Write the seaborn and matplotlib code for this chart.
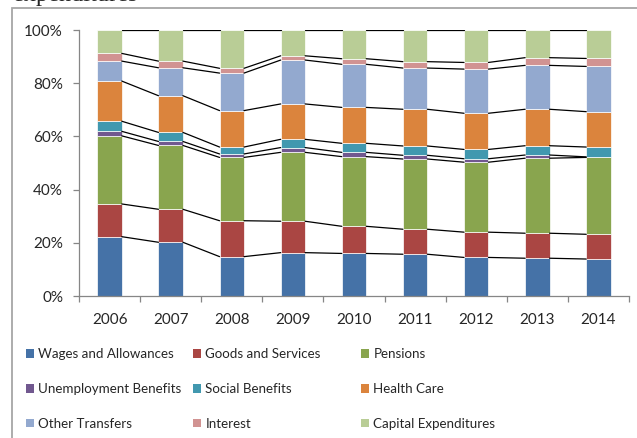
import numpy as np
import pandas as pd
import matplotlib
matplotlib.use("Agg")
import matplotlib.pyplot as plt
import seaborn as sns
from matplotlib.patches import Patch, Rectangle
from matplotlib.ticker import PercentFormatter

sns.set_style("white")
plt.rcParams['font.family'] = ['Lato', 'DejaVu Sans']

# shares of expenditure (%) per year
years = ['2006', '2007', '2008', '2009', '2010', '2011', '2012', '2013', '2014']
wages = [22.3, 20.2, 14.8, 16.3, 16.0, 15.7, 14.5, 14.2, 13.9]
goods = [12.3, 12.4, 13.5, 11.8, 10.2, 9.4, 9.5, 9.4, 9.3]
pensions = [25.6, 24.0, 23.8, 25.9, 26.2, 26.4, 26.3, 28.2, 28.9]
unemployment = [1.7, 1.5, 1.3, 1.8, 1.6, 1.4, 1.3, 1.2, 0.2]
social = [3.8, 3.4, 2.6, 3.1, 3.4, 3.5, 3.5, 3.5, 3.7]
health = [15.1, 13.8, 13.7, 13.3, 13.5, 13.8, 13.6, 13.7, 13.3]
other = [7.5, 10.5, 14.1, 16.5, 16.2, 15.5, 16.6, 16.5, 17.0]
interest = [2.9, 2.5, 1.8, 1.6, 2.1, 2.4, 2.5, 2.9, 3.0]
capital = [8.8, 11.7, 14.4, 9.7, 10.8, 11.9, 12.2, 10.4, 10.7]

series_names = ['Wages and Allowances', 'Goods and Services', 'Pensions',
                'Unemployment Benefits', 'Social Benefits', 'Health Care',
                'Other Transfers', 'Interest', 'Capital Expenditures']
colors = ['#4572A7', '#AA4643', '#89A54E', '#71588F', '#4198AF',
          '#DB843D', '#93A9CF', '#D19392', '#B9CD96']

df = pd.DataFrame({'year': years})
for name, vals in zip(series_names, [wages, goods, pensions, unemployment, social,
                                     health, other, interest, capital]):
    df[name] = vals

fig = plt.figure(figsize=(6.37, 4.38), dpi=100)
ax = fig.add_axes([79 / 637, 142 / 438, 550 / 637, 266 / 438])

bottom = np.zeros(len(years))
tops = []
for name, col in zip(series_names, colors):
    sns.barplot(data=df, x='year', y=name, bottom=bottom, color=col, saturation=1,
                width=0.4, errorbar=None, edgecolor='white', linewidth=0.5, ax=ax)
    bottom = bottom + df[name].values
    tops.append(bottom.copy())

# series lines between the bars
bw = 0.2
for top in tops:
    for i in range(len(years) - 1):
        ax.plot([i + bw, i + 1 - bw], [top[i], top[i + 1]], color='black', lw=0.9, zorder=1)

ax.set_xlim(-0.5, len(years) - 0.5)
ax.set_ylim(0, 100)
ax.set_xlabel('')
ax.set_ylabel('')
ax.set_yticks(range(0, 101, 20))
ax.yaxis.set_major_formatter(PercentFormatter(100, decimals=0))
ax.set_xticks(range(len(years)))
ax.set_xticklabels(years)
ax.set_xticks(np.arange(-0.5, len(years), 1), minor=True)

spine_col = '#868686'
for s in ['top', 'right']:
    ax.spines[s].set_visible(False)
for s in ['left', 'bottom']:
    ax.spines[s].set_color(spine_col)
    ax.spines[s].set_linewidth(0.9)

ax.tick_params(axis='y', left=True, length=4.5, width=0.9, color=spine_col, pad=7, labelsize=11)
ax.tick_params(axis='x', which='major', bottom=True, length=0, pad=12, labelsize=11)
ax.tick_params(axis='x', which='minor', bottom=True, length=4, width=0.9, color=spine_col)

# legend, three columns at fixed positions
handles = [Patch(facecolor=c, edgecolor='none') for c in colors]
col_x = [26, 193, 361]
for k in range(3):
    idx = [k, k + 3, k + 6]
    fig.legend([handles[j] for j in idx], [series_names[j] for j in idx],
               loc='upper left', bbox_to_anchor=(col_x[k] / 637, 1 - 348 / 438),
               frameon=False, fontsize=9.6, handlelength=0.62, handleheight=0.62,
               handletextpad=0.3, labelspacing=1.72, borderpad=0, borderaxespad=0)

# chart area outline and the cut-off caption above it
fig.add_artist(Rectangle((12 / 637, -0.1), 1.2, 1.1 - 8 / 438, transform=fig.transFigure,
                         fill=False, edgecolor='#A6A6A6', lw=1.3, clip_on=False))
fig.text(13 / 637, 1 - 1.5 / 438, 'expenditures', family='Liberation Serif',
         fontsize=17.5, va='baseline', ha='left')

fig.savefig('out.png', dpi=100)
